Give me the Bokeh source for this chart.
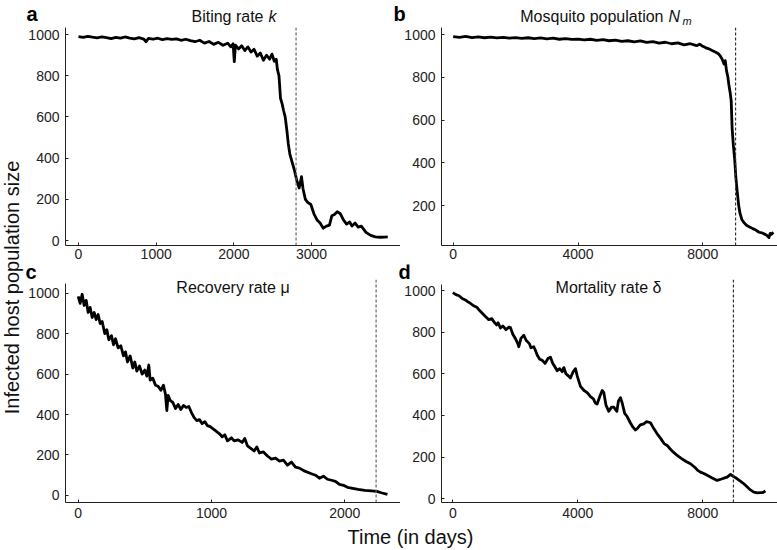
import math
from bokeh.plotting import figure
from bokeh.models import Range1d, Span, Label, FixedTicker
from bokeh.layouts import row, column
from bokeh.embed import file_html
from bokeh.resources import INLINE

FONT = "Liberation Sans"

# ---------------- data ----------------
t_a = [0, 60, 120, 180, 240, 300, 360, 420, 480, 540, 600, 660, 720, 780, 840, 870, 900, 960, 1020,
       1080, 1140, 1200, 1260, 1320, 1380, 1440, 1500, 1560, 1620, 1680, 1740, 1800, 1860, 1920, 1960,
       1990, 2005, 2020, 2060, 2100, 2140, 2180, 2220, 2260, 2300, 2340, 2380, 2420, 2460, 2490, 2520,
       2545, 2560, 2580, 2600, 2620, 2640, 2660, 2680, 2700, 2720, 2750, 2780, 2810, 2840, 2870, 2890,
       2920, 2950, 2990, 3030, 3070, 3110, 3150, 3190, 3230, 3260, 3290, 3330, 3370, 3410, 3450, 3490,
       3520, 3560, 3600, 3640, 3700, 3760, 3820, 3880, 3940, 3980]
n_a = [990, 986, 991, 987, 984, 989, 985, 980, 986, 982, 988, 983, 979, 985, 978, 965, 981, 977, 982,
       975, 980, 976, 979, 972, 977, 970, 965, 972, 958, 966, 952, 962, 948, 958, 940,
       955, 868, 948, 930, 945, 922, 940, 915, 928, 895, 910, 875, 900, 880, 905, 870,
       880, 830, 800, 690, 665, 630, 600, 540, 470, 420, 380, 340, 290, 255, 310, 250,
       200, 185, 175, 130, 100, 85, 60, 70, 75, 120, 125, 140, 130, 100, 80, 90,
       70, 85, 65, 70, 40, 25, 18, 16, 17, 18]

t_b = [0, 200, 400, 600, 800, 1000, 1200, 1400, 1600, 1800, 2000, 2200, 2400, 2600, 2800, 3000, 3200,
       3400, 3600, 3800, 4000, 4200, 4400, 4600, 4800, 5000, 5200, 5400, 5600, 5800, 6000, 6200, 6400,
       6600, 6800, 7000, 7200, 7400, 7600, 7800, 7900, 8000, 8100, 8200, 8300, 8400, 8500, 8560, 8620,
       8680, 8720, 8760, 8800, 8840, 8880, 8910, 8940, 8980, 9020, 9060, 9100, 9150, 9190, 9250, 9320,
       9400, 9500, 9600, 9700, 9800, 9900, 10000, 10060, 10120, 10160, 10200, 10260]
n_b = [990, 987, 991, 986, 989, 985, 988, 984, 987, 983, 986, 982, 985, 981, 984, 980, 983,
       978, 981, 977, 979, 975, 978, 973, 976, 971, 974, 968, 971, 966, 970, 963, 967,
       960, 964, 957, 961, 952, 957, 948, 955, 945, 938, 933, 925, 918, 910, 900, 885,
       862, 878, 830, 805, 760, 725, 690, 560, 480, 420, 330, 270, 200, 165, 135, 120,
       108, 100, 92, 85, 75, 72, 65, 60, 50, 70, 65, 75]

t_c = [0, 15, 30, 45, 60, 75, 90, 105, 120, 135, 150, 165, 180, 200, 215, 230, 250, 265, 280, 300,
       320, 340, 355, 370, 390, 410, 425, 440, 460, 480, 500, 515, 530, 540, 560, 580, 600, 620, 640,
       655, 665, 675, 690, 710, 730, 750, 770, 790, 810, 830, 850, 870, 890, 910, 930, 950, 970, 990,
       1010, 1030, 1060, 1080, 1100, 1120, 1150, 1170, 1200, 1230, 1250, 1270, 1300, 1320, 1340, 1360,
       1390, 1420, 1450, 1480, 1510, 1540, 1570, 1600, 1630, 1660, 1700, 1740, 1780, 1810, 1840, 1870,
       1900, 1930, 1960, 1990, 2020, 2060, 2100, 2150, 2200, 2240, 2280, 2320]
n_c = [985, 950, 995, 940, 965, 905, 930, 880, 905, 870, 895, 850, 860, 800, 820, 770, 790, 745, 775, 730,
       740, 690, 710, 660, 690, 630, 660, 615, 640, 600, 620, 590, 645, 570, 580, 545, 540, 520, 545,
       500, 420, 495, 470, 460, 430, 450, 425, 445, 435, 440, 410, 385, 370, 375, 355, 365, 345, 340,
       330, 320, 305, 290, 300, 270, 285, 270, 275, 262, 282, 245, 230, 220, 240, 210,
       215, 195, 180, 185, 170, 175, 150, 165, 140, 135, 120, 110, 100, 85, 95, 80,
       75, 70, 55, 50, 40, 35, 30, 25, 22, 20, 12, 5]

t_d = [0, 100, 200, 300, 400, 460, 550, 650, 780, 850, 950, 1045, 1150, 1250, 1312, 1400, 1450, 1525,
       1600, 1700, 1800, 1845, 1920, 2000, 2080, 2112, 2180, 2272, 2350, 2450, 2500, 2592, 2650, 2700,
       2780, 2859, 2950, 3050, 3125, 3200, 3280, 3339, 3420, 3500, 3552, 3620, 3700, 3765, 3850, 3925,
       3980, 4085, 4200, 4300, 4405, 4500, 4560, 4619, 4700, 4780, 4832, 4900, 4992, 5080, 5152, 5250,
       5300, 5365, 5420, 5500, 5579, 5680, 5760, 5845, 5920, 6000, 6112, 6200, 6325, 6400, 6539, 6650,
       6760, 6859, 6950, 7050, 7179, 7300, 7450, 7605, 7750, 7850, 7925, 8050, 8200, 8300, 8459, 8600,
       8700, 8779, 8885, 8950, 9099, 9200, 9312, 9400, 9500, 9632, 9750, 9845, 9920, 10005]
n_d = [990, 980, 975, 962, 955, 948, 940, 928, 918, 905, 890, 875, 860, 865, 850, 835, 845, 820,
       830, 812, 825, 822, 790, 770, 745, 730, 770, 785, 760, 745, 725, 730, 710, 690,
       670, 665, 650, 675, 680, 650, 630, 615, 625, 610, 630, 600, 590, 580, 610, 625,
       590, 540, 520, 510, 490, 480, 460, 455, 490, 520, 510, 450, 420, 440, 440, 420,
       470, 485, 460, 410, 395, 365, 345, 330, 340, 355, 360, 370, 365, 345, 312, 290,
       265, 256, 240, 225, 208, 195, 180, 168, 150, 135, 128, 120, 108, 100, 88, 95,
       100, 104, 117, 110, 96, 85, 72, 60, 45, 32, 28, 29, 30, 37]

thr_a, thr_b, thr_c, thr_d = 2800, 9050, 2235, 8980

xt_a = [0, 1000, 2000, 3000]
xt_b = [0, 4000, 8000]
xt_c = [0, 1000, 2000]
xt_d = [0, 4000, 8000]
yt = [0, 200, 400, 600, 800, 1000]

title_a, sym_a = "Biting rate", "k"
title_b, sym_b, sub_b = "Mosquito population", "N", "m"
title_c = "Recovery rate \u03bc"
title_d = "Mortality rate \u03b4"
letters = ["a", "b", "c", "d"]
ylabel = "Infected host population size"
xlabel = "Time (in days)"

INK = "#222222"


def panel(w, h, bl, bb, xr, yr, ybounds, xt, t, n, thr, dash_color, xstand):
    p = figure(width=w, height=h, output_backend="svg", toolbar_location=None,
               x_range=Range1d(*xr), y_range=Range1d(*yr),
               min_border_left=bl, min_border_right=0, min_border_top=0, min_border_bottom=bb)
    p.xgrid.visible = False
    p.ygrid.visible = False
    p.outline_line_color = None
    for ax in (p.xaxis[0], p.yaxis[0]):
        ax.axis_line_color = INK
        ax.axis_line_width = 1
        ax.major_tick_line_color = INK
        ax.major_tick_in = 3
        ax.major_tick_out = 0
        ax.minor_tick_line_color = None
        ax.major_label_text_font = FONT
        ax.major_label_text_font_size = "14px"
        ax.major_label_text_color = INK
    p.xaxis[0].major_label_standoff = xstand
    p.yaxis[0].major_label_standoff = 6
    p.yaxis[0].bounds = ybounds
    p.xaxis[0].ticker = FixedTicker(ticks=xt)
    p.yaxis[0].ticker = FixedTicker(ticks=yt)
    p.add_layout(Span(location=thr, dimension="height", line_color=dash_color,
                      line_dash="3 2", line_width=1.2))
    p.line(t, n, line_color="black", line_width=2.8, line_join="round")
    return p


def lab(p, x, y, text, size=16, style="normal", align="left", angle=0.0,
        baseline="alphabetic", color="#111111", shift=True):
    # y is the wanted baseline height (px above the frame bottom); the renderer
    # draws alphabetic text about a third of an em lower, so compensate.
    yy = y + (round(0.33 * size) if shift else 0)
    p.add_layout(Label(x=x, y=yy, x_units="screen", y_units="screen", text=text,
                       text_font=FONT, text_font_size=f"{size}px", text_font_style=style,
                       text_align=align, text_baseline=baseline, angle=angle,
                       text_color=color))


def blank(w, h):
    p = figure(width=w, height=h, output_backend="svg", toolbar_location=None,
               x_range=Range1d(0, 1), y_range=Range1d(0, 1), x_axis_type=None, y_axis_type=None,
               min_border_left=0, min_border_right=0, min_border_top=0, min_border_bottom=0)
    p.xgrid.visible = False
    p.ygrid.visible = False
    p.outline_line_color = None
    return p


# panels: frames a/c at x 65..400, b/d at x 441..777
fa = panel(376, 237, 41, 19, (-167, 4144), (-24, 1034), (-24, 1034),
           xt_a, t_a, n_a, thr_a, "#666666", 3)
fb = panel(377, 237, 41, 19, (-375, 10394), (13, 1033), (13, 1033),
           xt_b, t_b, n_b, thr_b, "#333333", 3)
# lower frames reach a little higher than their axes so the titles can overlap them
fc = panel(376, 243, 41, 20, (-95, 2418), (-35, 1068), (-35, 1048),
           xt_c, t_c, n_c, thr_c, "#666666", 5)
fd = panel(377, 243, 41, 20, (-362, 10390), (-18, 1053), (-18, 1029),
           xt_d, t_d, n_d, thr_d, "#333333", 5)

# titles of the lower panels sit inside their frames
lab(fc, 167.5, 210, title_c, align="center")
lab(fd, 167, 210, title_d, align="center")

# strip above the top row: letters a, b and titles of a, b
top = blank(777, 27)
lab(top, 26, 7, letters[0], size=20, style="bold", color="black")
lab(top, 263, 6, title_a, align="right")
lab(top, 268, 6, sym_a, style="italic")
lab(top, 393, 7, letters[1], size=20, style="bold", color="black")
lab(top, 663, 6, title_b, align="right")
lab(top, 668, 6, sym_b, style="italic")
lab(top, 682, 3, sub_b, size=11, style="italic")

# strip between the rows: letters c, d
mid = blank(753, 15)
lab(mid, 1, 1, letters[2], size=20, style="bold", color="black")
lab(mid, 374, 1, letters[3], size=20, style="bold", color="black")

# y label strip and x label strip
fy = blank(24, 495)
lab(fy, 11, 235, ylabel, size=20, align="center", angle=math.pi / 2,
    baseline="middle", color="#111111", shift=False)
fx = blank(777, 28)
lab(fx, 410, 7, xlabel, size=20, align="center", color="#111111")

layout = column(top, row(fy, column(row(fa, fb), mid, row(fc, fd))), fx)

open("out.html", "w").write(file_html(layout, INLINE))
